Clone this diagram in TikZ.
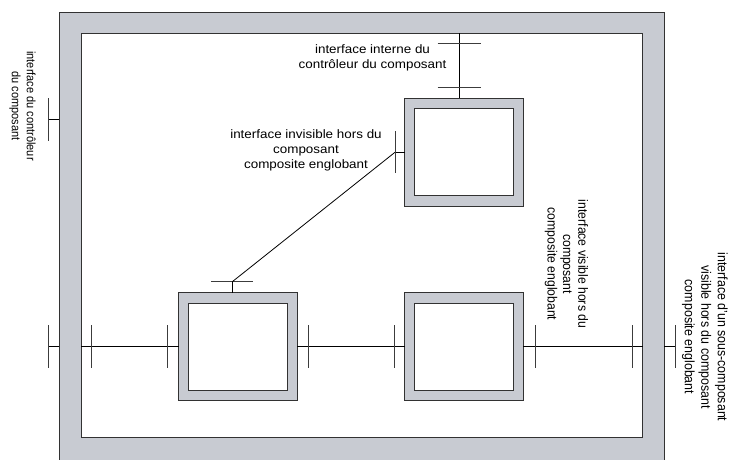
\documentclass[tikz,border=0pt]{standalone}
\usepackage{fontspec}
\setmainfont{Liberation Sans}
\newfontfamily\hfont[FakeStretch=1.1]{Liberation Sans}
\definecolor{frameg}{RGB}{200,203,210}
\definecolor{edgec}{RGB}{50,50,50}
\definecolor{tickc}{RGB}{60,60,60}
\begin{document}
\begin{tikzpicture}[x=1pt,y=-1pt,
  shellout/.style={draw=edgec, fill=frameg, line width=1pt, rectangle, inner sep=0pt, outer sep=0pt},
  shellin/.style={draw=edgec, fill=white, line width=1pt, rectangle, inner sep=0pt, outer sep=0pt},
  compout/.style={shellout, minimum width=118.5pt, minimum height=108pt},
  compin/.style={shellin, minimum width=99.5pt, minimum height=87pt},
  wire/.style={draw=black, line width=0.8pt},
  tickv/.style={draw=tickc, line width=0.9pt},
  hlab/.style={font=\hfont\fontsize{12.2}{15}\selectfont, align=center, inner sep=0pt},
  vlab/.style={font=\fontsize{12.2}{14}\selectfont, align=center, inner sep=0pt, rotate=-90, yscale=1.1}
]
\clip (0,0) rectangle (730,459);
% enclosing composite
\node[shellout, anchor=north west, minimum width=604.7pt, minimum height=460pt] (fo) at (59.3,12) {};
\node[shellin, anchor=north west, minimum width=561.7pt, minimum height=404pt] (fi) at (81,33) {};
% sub-components
\node[compout] (A) at (464.2,152.3) {};
\node[compin] (Ai) at (A.center) {};
\node[compout] (B) at (237.8,346.7) {};
\node[compin] (Bi) at (B.center) {};
\node[compout] (C) at (464.2,346.7) {};
\node[compin] (Ci) at (C.center) {};
% horizontal binding line
\draw[wire] (fi.west |- B.west) -- (B.west);
\draw[wire] (B.east) -- (C.west);
\draw[wire] (C.east) -- (fi.east |- C.east);
\draw[wire] (fo.west |- B.west) -- ++(-10.8,0) coordinate (pL0);
\draw[wire] (fo.east |- C.east) -- ++(11,0) coordinate (pR0);
\foreach \n/\x in {p1/91.7,p2/167.7,p3/308,p4/394.3,p5/535,p6/632}{
  \coordinate (\n) at (\x,346.7);
}
\foreach \n in {pL0,p1,p2,p3,p4,p5,p6,pR0}{
  \draw[tickv] (\n) ++(0,-21.3) -- ++(0,42.6);
}
% controller interface (left)
\coordinate (cy) at (0,119.5);
\draw[wire] (fo.west |- cy) -- ++(-11,0) coordinate (pC);
\draw[tickv] (pC) ++(0,-21.3) -- ++(0,42.6);
% internal controller interface (top)
\coordinate (ax) at (459.2,0);
\draw[wire] (ax |- fi.north) -- (ax |- A.north);
\coordinate (t1p) at (459.2,43);
\coordinate (t2p) at (459.2,87.3);
\foreach \n in {t1p,t2p}{
  \draw[tickv] (\n) ++(-21.5,0) -- ++(43,0);
}
% invisible interface (diagonal)
\draw[wire] (A.west) -- ++(-10,0) coordinate (dA);
\draw[tickv] (dA) ++(0,-21) -- ++(0,42);
\coordinate (bx) at (232.3,0);
\draw[wire] (bx |- B.north) -- ++(0,-11) coordinate (dB);
\draw[tickv] (dB) ++(-21,0) -- ++(42,0);
\draw[wire] (dA) -- (dB);
% labels
\node[hlab] (l1) at (372.5,57.5) {interface interne du\\contrôleur du composant};
\node[hlab] (l2) at (306,150) {interface invisible hors du\\composant\\composite englobant};
\node[vlab] (l3) at (566.5,264) {interface visible hors du\\composant\\composite englobant};
\node[vlab, font=\fontsize{12.4}{15}\selectfont] (l4) at (705,337) {interface d'un sous-composant\\visible hors du composant\\composite englobant};
\node[vlab, font=\fontsize{11}{13.6}\selectfont] (l5) at (22.5,106) {interface du contrôleur\\du composant};
\end{tikzpicture}
\end{document}
